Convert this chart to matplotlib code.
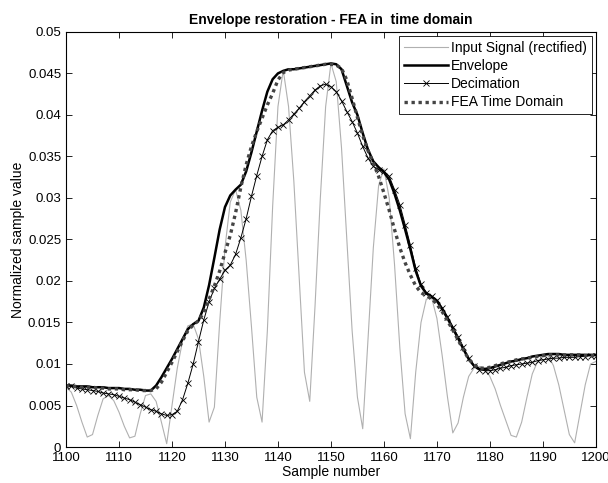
import numpy as np
import matplotlib
matplotlib.use("Agg")
import matplotlib.pyplot as plt

plt.rcParams['font.family'] = ['Liberation Sans', 'DejaVu Sans']

samples = np.arange(1100, 1201)

# rectified input signal, one value per sample
input_signal = [
    0.0072, 0.0066, 0.0050, 0.0030, 0.0012, 0.0015, 0.0038, 0.0058, 0.0062, 0.0056,
    0.0042, 0.0025, 0.0011, 0.0013, 0.0040, 0.0062, 0.0064, 0.0055, 0.0030, 0.0004,
    0.0050, 0.0095, 0.0128, 0.0146, 0.0148, 0.0130, 0.0085, 0.0030, 0.0048, 0.0150,
    0.0240, 0.0295, 0.0310, 0.0285, 0.0225, 0.0145, 0.0060, 0.0030, 0.0140, 0.0290,
    0.0410, 0.0454, 0.0410, 0.0320, 0.0205, 0.0090, 0.0055, 0.0170, 0.0300, 0.0410,
    0.0462, 0.0440, 0.0360, 0.0250, 0.0140, 0.0060, 0.0022, 0.0130, 0.0240, 0.0315,
    0.0335, 0.0300, 0.0220, 0.0120, 0.0040, 0.0010, 0.0090, 0.0150, 0.0178, 0.0180,
    0.0155, 0.0110, 0.0060, 0.0017, 0.0029, 0.0060, 0.0085, 0.0095, 0.0097, 0.0095,
    0.0085, 0.0070, 0.0050, 0.0032, 0.0014, 0.0012, 0.0030, 0.0060, 0.0088, 0.0103,
    0.0110, 0.0110, 0.0098, 0.0075, 0.0045, 0.0015, 0.0005, 0.0040, 0.0075, 0.0100,
    0.0103,
]

envelope = [
    0.0074, 0.0074, 0.0073, 0.0073, 0.0073, 0.0072, 0.0072, 0.0072, 0.0071, 0.0071,
    0.0071, 0.0070, 0.0070, 0.0069, 0.0069, 0.0068, 0.0068, 0.0074, 0.0084, 0.0095,
    0.0106, 0.0118, 0.0130, 0.0142, 0.0148, 0.0152, 0.0168, 0.0195, 0.0228, 0.0262,
    0.0289, 0.0303, 0.0310, 0.0316, 0.0332, 0.0355, 0.0380, 0.0405, 0.0428, 0.0443,
    0.0450, 0.0453, 0.0455, 0.0455, 0.0456, 0.0457, 0.0458, 0.0459, 0.0460, 0.0461,
    0.0462, 0.0461, 0.0455, 0.0435, 0.0415, 0.0400, 0.0378, 0.0358, 0.0344, 0.0337,
    0.0331, 0.0322, 0.0305, 0.0285, 0.0262, 0.0238, 0.0212, 0.0194, 0.0185, 0.0181,
    0.0176, 0.0166, 0.0155, 0.0143, 0.0131, 0.0118, 0.0106, 0.0098, 0.0094, 0.0094,
    0.0095, 0.0097, 0.0099, 0.0101, 0.0103, 0.0104, 0.0106, 0.0107, 0.0109, 0.0110,
    0.0111, 0.0112, 0.0112, 0.0112, 0.0111, 0.0111, 0.0111, 0.0111, 0.0111, 0.0111,
    0.0111,
]

decimation = [
    0.0074, 0.0073, 0.0071, 0.0070, 0.0069, 0.0068, 0.0067, 0.0065, 0.0064, 0.0063,
    0.0061, 0.0059, 0.0057, 0.0054, 0.0051, 0.0048, 0.0045, 0.0043, 0.0040, 0.0038,
    0.0039, 0.0043, 0.0057, 0.0077, 0.0100, 0.0127, 0.0153, 0.0175, 0.0191, 0.0202,
    0.0213, 0.0219, 0.0232, 0.0252, 0.0275, 0.0302, 0.0327, 0.0350, 0.0370, 0.0381,
    0.0385, 0.0388, 0.0394, 0.0401, 0.0408, 0.0416, 0.0423, 0.0430, 0.0435, 0.0437,
    0.0434, 0.0428, 0.0417, 0.0404, 0.0392, 0.0378, 0.0362, 0.0348, 0.0338, 0.0334,
    0.0332, 0.0326, 0.0310, 0.0292, 0.0268, 0.0243, 0.0216, 0.0196, 0.0186, 0.0182,
    0.0177, 0.0168, 0.0157, 0.0145, 0.0133, 0.0120, 0.0107, 0.0097, 0.0093, 0.0092,
    0.0092, 0.0093, 0.0095, 0.0096, 0.0098, 0.0099, 0.0100, 0.0101, 0.0102, 0.0104,
    0.0105, 0.0106, 0.0107, 0.0107, 0.0108, 0.0108, 0.0108, 0.0109, 0.0109, 0.0110,
    0.0110,
]

fea_time = [
    0.0074, 0.0073, 0.0073, 0.0072, 0.0072, 0.0072, 0.0071, 0.0071, 0.0070, 0.0070,
    0.0070, 0.0069, 0.0069, 0.0069, 0.0068, 0.0068, 0.0068, 0.0070, 0.0078, 0.0090,
    0.0102, 0.0115, 0.0128, 0.0140, 0.0147, 0.0152, 0.0162, 0.0178, 0.0194, 0.0212,
    0.0234, 0.0255, 0.0282, 0.0313, 0.0340, 0.0362, 0.0380, 0.0396, 0.0412, 0.0426,
    0.0442, 0.0451, 0.0454, 0.0455, 0.0456, 0.0457, 0.0458, 0.0459, 0.0460, 0.0461,
    0.0461, 0.0460, 0.0456, 0.0442, 0.0420, 0.0397, 0.0375, 0.0357, 0.0342, 0.0326,
    0.0306, 0.0285, 0.0262, 0.0240, 0.0222, 0.0207, 0.0194, 0.0186, 0.0182, 0.0179,
    0.0172, 0.0163, 0.0152, 0.0141, 0.0129, 0.0117, 0.0106, 0.0099, 0.0095, 0.0095,
    0.0096, 0.0098, 0.0100, 0.0102, 0.0103, 0.0105, 0.0106, 0.0107, 0.0108, 0.0109,
    0.0110, 0.0111, 0.0111, 0.0111, 0.0111, 0.0111, 0.0111, 0.0111, 0.0110, 0.0110,
    0.0110,
]

fig = plt.figure(figsize=(6.08, 4.83), dpi=100)
ax = fig.add_axes([0.1086, 0.0745, 0.8714, 0.8595])

ax.plot(samples, input_signal, color='#b0b0b0', lw=0.8, label='Input Signal (rectified)')
ax.plot(samples, envelope, color='black', lw=1.8, label='Envelope')
ax.plot(samples, decimation, color='black', lw=0.7, marker='x', ms=4, mew=0.6,
        label='Decimation')
ax.plot(samples, fea_time, color='#444444', lw=2.4, linestyle=(0, (1, 1.1)),
        dash_capstyle='butt', label='FEA Time Domain')

ax.set_xlim(1100, 1200)
ax.set_ylim(0, 0.05)
ax.set_xticks(np.arange(1100, 1201, 10))
ax.set_yticks(np.arange(0, 0.0501, 0.005))
ax.set_yticklabels(['%g' % round(v, 3) for v in np.arange(0, 0.0501, 0.005)])
ax.tick_params(direction='in', top=True, right=True, labelsize=9.5, length=4, width=0.6)
for s in ax.spines.values():
    s.set_linewidth(0.8)

ax.set_xlabel('Sample number', fontsize=10, labelpad=1)
ax.set_ylabel('Normalized sample value', fontsize=10, labelpad=2)
ax.set_title('Envelope restoration - FEA in  time domain', fontsize=10,
             fontweight='bold', pad=6)

leg = ax.legend(loc='upper right', fontsize=10, fancybox=False, framealpha=1,
                edgecolor='black', borderaxespad=0.3, handlelength=3.2,
                handletextpad=0.2, labelspacing=0.3, borderpad=0.35)
leg.get_frame().set_linewidth(0.6)

fig.savefig('out.png', dpi=100)
